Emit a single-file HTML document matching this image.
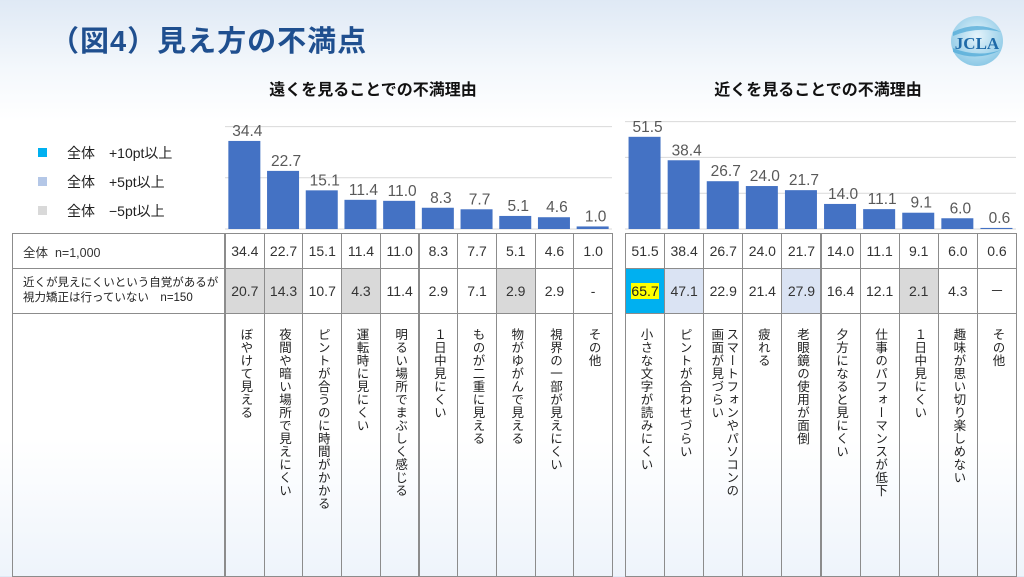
<!DOCTYPE html>
<html><head><meta charset="utf-8">
<style>
*{margin:0;padding:0;box-sizing:border-box}
body{width:1024px;height:576px;overflow:hidden;position:relative;font-family:"Liberation Sans","Noto Sans CJK JP",sans-serif;
background:linear-gradient(180deg,#dfe9f5 0px,#f4f8fc 70px,#ffffff 120px,#ffffff 440px,#eef4fb 576px);}
.abs{position:absolute}
.title{left:50px;top:18px;font-size:29px;font-weight:bold;color:#1f4f8f;letter-spacing:1px}
.sub{top:76px;font-size:16px;font-weight:bold;color:#111;width:300px;text-align:center}
.leg{left:38px;font-size:14px;color:#222}
.leg i{display:inline-block;width:9px;height:9px;margin-right:20px;vertical-align:1px}
.cell{position:absolute;border:1px solid #8c8c8c;margin:0;font-size:14px;color:#333;display:flex;align-items:center;justify-content:center}
.vtc{align-items:flex-start;padding-top:14px}
.vt{writing-mode:vertical-rl;font-size:12.5px;color:#222;letter-spacing:0.5px;line-height:15px;white-space:nowrap}
</style></head><body>
<div class="abs title">（図4）見え方の不満点</div>
<svg class="abs" style="left:949px;top:14px" width="56" height="54">
<defs><radialGradient id="lg" cx="50%" cy="40%" r="60%"><stop offset="0" stop-color="#e6f4fb"/><stop offset="1" stop-color="#8cc9e6"/></radialGradient></defs>
<ellipse cx="28" cy="27" rx="26" ry="25" fill="url(#lg)"/>
<path d="M4 18 Q28 6 52 18 Q28 12 4 22Z" fill="#4aa7d6" opacity=".7"/>
<path d="M4 38 Q28 48 52 36 Q28 44 4 34Z" fill="#4aa7d6" opacity=".7"/>
<text x="28" y="35" text-anchor="middle" font-family="Liberation Serif, serif" font-weight="bold" font-size="17" fill="#1e6aa8">JCLA</text>
</svg>
<div class="abs sub" style="left:223px">遠くを見ることでの不満理由</div>
<div class="abs sub" style="left:668px">近くを見ることでの不満理由</div>
<div class="abs leg" style="top:143px"><i style="background:#00b0f0"></i>全体　+10pt以上</div>
<div class="abs leg" style="top:172px"><i style="background:#b4c7e7"></i>全体　+5pt以上</div>
<div class="abs leg" style="top:201px"><i style="background:#d9d9d9"></i>全体　−5pt以上</div>
<div class="cell" style="left:12px;top:233px;width:213px;height:36px;justify-content:flex-start;padding-left:10px;font-size:12.5px">全体&nbsp;&nbsp;n=1,000</div>
<div class="cell" style="left:12px;top:268px;width:213px;height:46px;justify-content:flex-start;padding-left:10px;font-size:11.5px;line-height:15px;color:#222">近くが見えにくいという自覚があるが<br>視力矯正は行っていない　n=150</div>
<div class="cell" style="left:12px;top:313px;width:213px;height:264px"></div>
<svg id="chart" class="abs" style="left:0;top:0" width="1024" height="240"></svg>
<div id="tables"></div>
<script>
const farCats=["ぼやけて見える","夜間や暗い場所で見えにくい","ピントが合うのに時間がかかる","運転時に見にくい","明るい場所でまぶしく感じる","１日中見にくい","ものが二重に見える","物がゆがんで見える","視界の一部が見えにくい","その他"];
const farAll=[34.4,22.7,15.1,11.4,11.0,8.3,7.7,5.1,4.6,1.0];
const farSub=["20.7","14.3","10.7","4.3","11.4","2.9","7.1","2.9","2.9","-"];
const farHl=["g","g","","g","","","","g","",""];
const nearCats=["小さな文字が読みにくい","ピントが合わせづらい","スマートフォンやパソコンの\n画面が見づらい","疲れる","老眼鏡の使用が面倒","夕方になると見にくい","仕事のパフォーマンスが低下","１日中見にくい","趣味が思い切り楽しめない","その他"];
const nearAll=[51.5,38.4,26.7,24.0,21.7,14.0,11.1,9.1,6.0,0.6];
const nearSub=["65.7","47.1","22.9","21.4","27.9","16.4","12.1","2.1","4.3","－"];
const nearHl=["c","b","","","b","","","g","",""];
const gridVals=[20,40,60];

const NS="http://www.w3.org/2000/svg";
const svg=document.getElementById('chart');
const tables=document.getElementById('tables');
const base=229;
function draw(cats,all,sub,hl,x0,cw,scale,gmax,gx1,key){
  const y=v=>base-v*scale;
  gridVals.filter(g=>g<=gmax).forEach(g=>{
    const l=document.createElementNS(NS,'line');
    l.setAttribute('x1',x0);l.setAttribute('x2',gx1);l.setAttribute('y1',y(g));l.setAttribute('y2',y(g));
    l.setAttribute('stroke','#d9d9d9');l.setAttribute('stroke-width','1');
    
    
    svg.appendChild(l);
  });
  const bl=document.createElementNS(NS,'line');
  bl.setAttribute('x1',x0);bl.setAttribute('x2',gx1);bl.setAttribute('y1',base);bl.setAttribute('y2',base);
  bl.setAttribute('stroke','#d9d9d9');
  
  
  svg.appendChild(bl);
  all.forEach((v,i)=>{
    const cx=x0+cw*i+cw/2;
    const r=document.createElementNS(NS,'rect');
    r.setAttribute('x',cx-16);r.setAttribute('width',32);r.setAttribute('y',y(v));r.setAttribute('height',v*scale);
    r.setAttribute('fill','#4472c4');
    
    
    svg.appendChild(r);
    const t=document.createElementNS(NS,'text');
    t.setAttribute('x',cx+3);t.setAttribute('y',y(v)-5);t.setAttribute('text-anchor','middle');
    t.setAttribute('font-size','15.5');t.setAttribute('fill','#595959');
    t.setAttribute('font-family','Liberation Sans, sans-serif');
    t.textContent=v.toFixed(1);
    
    
    svg.appendChild(t);
    const left=x0+cw*i;
    const c1=document.createElement('div');c1.className='cell';
    c1.style.cssText=`left:${left}px;top:233px;width:${cw+1}px;height:36px`;
    c1.textContent=v.toFixed(1);
    
    
    tables.appendChild(c1);
    const c2=document.createElement('div');c2.className='cell';
    const bg={g:'#d9d9d9',b:'#dae3f3',c:'#00b0f0'}[hl[i]]||'transparent';
    c2.style.cssText=`left:${left}px;top:268px;width:${cw+1}px;height:46px;background:${bg}`;
    if(hl[i]==='c'){c2.innerHTML='<span style="background:#ffff00;color:#222">'+sub[i]+'</span>';}
    else c2.textContent=sub[i];
    
    
    tables.appendChild(c2);
    const c3=document.createElement('div');c3.className='cell vtc';
    c3.style.cssText=`left:${left}px;top:313px;width:${cw+1}px;height:264px`;
    
    
    const s=document.createElement('div');s.className='vt';
    s.innerHTML=cats[i].replace('\n','<br>');
    
    
    c3.appendChild(s);
    tables.appendChild(c3);
  });
}
draw(farCats,farAll,farSub,farHl,225,38.7,2.56,40,612,'far');
draw(nearCats,nearAll,nearSub,nearHl,625,39.1,1.79,60,1016,'near');
</script>
</body></html>
